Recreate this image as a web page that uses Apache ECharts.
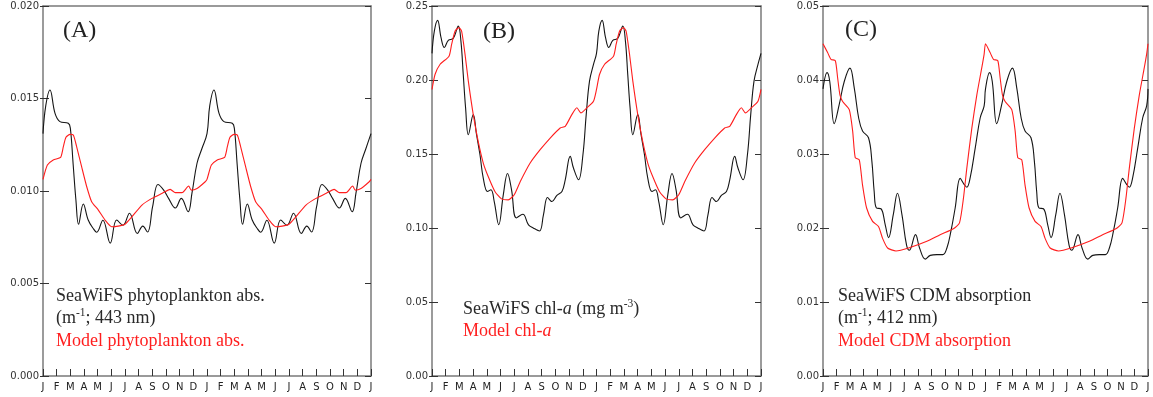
<!DOCTYPE html>
<html><head><meta charset="utf-8">
<script src="https://cdn.jsdelivr.net/npm/echarts@6/dist/echarts.min.js"></script>
<style>html,body{margin:0;padding:0;background:#fff}#c{width:1153px;height:397px}</style>
</head><body><div id="c"></div>
<script>
// Tick labels (months over two years)
const monthTickLabels = ['J','F','M','A','M','J','J','A','S','O','N','D','J','F','M','A','M','J','J','A','S','O','N','D','J'];

// Panel A: phytoplankton absorption (m^-1; 443 nm), one climatological year, plotted twice
const aSeaMonths = [0, 0.2, 0.51, 0.88, 1.24, 1.85, 2.0, 2.2, 2.41, 2.6, 2.95, 3.3, 3.65, 3.93, 4.38, 4.92, 5.39, 5.85, 6.33, 6.9, 7.3, 7.65, 8.02, 8.41, 8.83, 9.19, 9.68, 10.12, 10.62, 10.9, 11.27, 11.63];
const aSeaValues = [0.0131, 0.0146, 0.01546, 0.0142, 0.01375, 0.01366, 0.0134, 0.0115, 0.0095, 0.0082, 0.0093, 0.00845, 0.0080, 0.00777, 0.00842, 0.00718, 0.00843, 0.00815, 0.0088, 0.0077, 0.0081, 0.00778, 0.00915, 0.01035, 0.01005, 0.0096, 0.00908, 0.0096, 0.00888, 0.00988, 0.0115, 0.0123];
const aModMonths = [0, 0.32, 0.75, 1.29, 1.49, 1.68, 1.98, 2.22, 2.46, 2.83, 3.2, 3.56, 4.05, 4.54, 5.02, 5.5, 6.0, 6.5, 7.24, 7.97, 8.7, 9.31, 9.68, 10.17, 10.66, 10.85, 11.27, 11.87];
const aModValues = [0.01063, 0.0114, 0.01168, 0.01182, 0.0124, 0.0129, 0.01306, 0.01303, 0.0124, 0.0113, 0.01023, 0.00942, 0.00897, 0.00843, 0.00807, 0.0081, 0.0082, 0.0086, 0.00924, 0.0096, 0.00987, 0.01009, 0.00991, 0.00991, 0.01027, 0.01005, 0.01014, 0.0105];

// Panel B: chl-a (mg m^-3)
const bSeaMonths = [0, 0.17, 0.41, 0.66, 0.9, 1.19, 1.55, 1.92, 2.11, 2.28, 2.45, 2.65, 3.01, 3.25, 3.5, 3.74, 4.05, 4.3, 4.54, 4.87, 5.2, 5.51, 5.8, 6.15, 6.63, 7.04, 7.41, 7.84, 8.13, 8.43, 8.75, 9.11, 9.48, 9.72, 10.08, 10.32, 10.69, 11.01, 11.25, 11.49, 11.78];
const bSeaValues = [0.218, 0.233, 0.2403, 0.2286, 0.222, 0.2268, 0.2281, 0.2364, 0.2263, 0.2037, 0.1812, 0.163, 0.1766, 0.163, 0.1495, 0.1337, 0.1247, 0.1258, 0.1179, 0.1022, 0.1224, 0.1368, 0.126, 0.1068, 0.1093, 0.1021, 0.0999, 0.098, 0.1089, 0.1206, 0.1179, 0.122, 0.1247, 0.1326, 0.1484, 0.1405, 0.1326, 0.1495, 0.1766, 0.1992, 0.2105];
const bModMonths = [0, 0.22, 0.58, 1.24, 1.43, 1.68, 1.97, 2.16, 2.41, 2.65, 3.01, 3.37, 3.74, 4.1, 4.59, 5.07, 5.56, 6.0, 6.44, 7.16, 7.89, 8.62, 9.35, 9.72, 10.2, 10.57, 10.86, 11.3, 11.78];
const bModValues = [0.1936, 0.2037, 0.2105, 0.2161, 0.224, 0.233, 0.2354, 0.233, 0.2173, 0.1992, 0.1766, 0.1585, 0.1439, 0.1348, 0.1247, 0.1197, 0.119, 0.1225, 0.1314, 0.1439, 0.1529, 0.1608, 0.1676, 0.1687, 0.1766, 0.1812, 0.1778, 0.1812, 0.1856];

// Panel C: CDM absorption (m^-1; 412 nm)
const cSeaMonths = [0, 0.3, 0.5, 0.83, 1.2, 1.57, 1.99, 2.31, 2.63, 2.92, 3.36, 3.61, 3.78, 3.95, 4.28, 4.6, 4.84, 5.19, 5.5, 5.83, 6.17, 6.38, 6.83, 7.13, 7.55, 7.92, 8.41, 8.85, 9.15, 9.44, 9.76, 10.13, 10.42, 10.62, 10.87, 11.24, 11.61, 11.9];
const cSeaValues = [0.0388, 0.0410, 0.0398, 0.0341, 0.0367, 0.0398, 0.0416, 0.0389, 0.0349, 0.0331, 0.0322, 0.0290, 0.0249, 0.0227, 0.0226, 0.0204, 0.0187, 0.0218, 0.0247, 0.0218, 0.0177, 0.0170, 0.0191, 0.0173, 0.0158, 0.0163, 0.0164, 0.0164, 0.0173, 0.0195, 0.0227, 0.0267, 0.0259, 0.0255, 0.0268, 0.0308, 0.0349, 0.0365];
const cModMonths = [0, 0.34, 0.59, 0.91, 1.08, 1.25, 1.45, 1.94, 2.19, 2.38, 2.68, 2.92, 3.22, 3.66, 4.1, 4.4, 4.77, 5.39, 6.32, 7.67, 8.65, 9.63, 10.08, 10.37, 10.62, 10.99, 11.36, 11.73, 11.9];
const cModValues = [0.0449, 0.0437, 0.0428, 0.0426, 0.0403, 0.0380, 0.0371, 0.0360, 0.0331, 0.0295, 0.0292, 0.0258, 0.0227, 0.0209, 0.0202, 0.0186, 0.0173, 0.0169, 0.0173, 0.0182, 0.0191, 0.0199, 0.0207, 0.0240, 0.0281, 0.0335, 0.0380, 0.0417, 0.0435];

// y-axis ranges
const yMax = [0.020, 0.25, 0.05];
const yStep = [0.005, 0.05, 0.01];
const yDecimals = [3, 2, 2];

// the climatology is shown for two consecutive years
function twoYears(months, values) {
  const out = [];
  [0, 12].forEach(off => months.forEach((m, i) => out.push([m + off, values[i]])));
  out.push([24, values[0]]);
  return out;
}

const grids = [
  {left: 43, top: 6, width: 328, height: 370},
  {left: 432, top: 6, width: 329, height: 370},
  {left: 823, top: 6, width: 325, height: 370}
];
const frame = {color: '#7a7a7a', width: 1.5};
const tickStyle = {color: '#333', width: 1};
const xAxes = [], yAxes = [];
grids.forEach((g, i) => {
  xAxes.push({type: 'value', gridIndex: i, min: 0, max: 24, interval: 1, position: 'bottom',
    axisLine: {show: true, lineStyle: frame},
    axisTick: {show: true, inside: true, length: 7, lineStyle: tickStyle},
    axisLabel: {show: true, formatter: v => monthTickLabels[Math.round(v)], fontSize: 10, fontFamily: 'DejaVu Sans', color: '#222', margin: 6},
    splitLine: {show: false}});
  xAxes.push({type: 'value', gridIndex: i, min: 0, max: 24, interval: 1, position: 'top',
    axisLine: {show: true, onZero: false, lineStyle: frame}, axisTick: {show: false}, axisLabel: {show: false}, splitLine: {show: false}});
  const base = {type: 'value', gridIndex: i, min: 0, max: yMax[i], interval: yStep[i], splitLine: {show: false}};
  yAxes.push(Object.assign({}, base, {position: 'left',
    axisLine: {show: true, onZero: false, lineStyle: frame},
    axisTick: {show: true, inside: true, length: 6, lineStyle: tickStyle},
    axisLabel: {show: true, formatter: v => v.toFixed(yDecimals[i]), fontSize: 10, fontFamily: 'DejaVu Sans', color: '#333', margin: 4}}));
  yAxes.push(Object.assign({}, base, {position: 'left',
    axisLine: {show: false}, axisTick: {show: true, inside: false, length: 3, lineStyle: tickStyle}, axisLabel: {show: false}}));
  yAxes.push(Object.assign({}, base, {position: 'right',
    axisLine: {show: true, onZero: false, lineStyle: frame},
    axisTick: {show: true, inside: true, length: 6, lineStyle: tickStyle}, axisLabel: {show: false}}));
});

const BLACK = '#151515', RED = '#ff1e1e';
const panels = [
  [aSeaMonths, aSeaValues, aModMonths, aModValues],
  [bSeaMonths, bSeaValues, bModMonths, bModValues],
  [cSeaMonths, cSeaValues, cModMonths, cModValues]
];
const series = [];
panels.forEach((p, i) => {
  series.push({type: 'line', xAxisIndex: 2 * i, yAxisIndex: 3 * i, data: twoYears(p[0], p[1]), showSymbol: false, smooth: 0.4, lineStyle: {color: BLACK, width: 1.1}, silent: true});
  series.push({type: 'line', xAxisIndex: 2 * i, yAxisIndex: 3 * i, data: twoYears(p[2], p[3]), showSymbol: false, smooth: 0.2, lineStyle: {color: RED, width: 1.1}, silent: true});
});

const SERIF = 'Liberation Serif';
function rich(color) {
  return {
    n: {fontFamily: SERIF, fontSize: 18, fill: color, lineHeight: 22},
    i: {fontFamily: SERIF, fontSize: 18, fontStyle: 'italic', fill: color, lineHeight: 22},
    s: {fontFamily: SERIF, fontSize: 11.5, fill: color, lineHeight: 12, verticalAlign: 'top'}
  };
}
function line(x, y, text, color) {
  return {type: 'text', x: x, y: y, z: 100, style: {text: text, rich: rich(color), fill: color, verticalAlign: 'middle', align: 'left'}};
}
function label(x, y, t) {
  return {type: 'text', x: x, y: y, z: 100, style: {text: t, font: '24px "Liberation Serif"', fill: '#222', verticalAlign: 'middle', align: 'left'}};
}
const TXT = '#2a2a2a';
const graphic = [
  label(63, 31, '(A)'), label(483, 32, '(B)'), label(845, 30, '(C)'),
  line(56, 296, '{n|SeaWiFS phytoplankton abs.}', TXT),
  line(56, 318, '{n|(m}{s|-1}{n|; 443 nm)}', TXT),
  line(56, 341, '{n|Model phytoplankton abs.}', RED),
  line(463, 309, '{n|SeaWiFS chl-}{i|a}{n| (mg m}{s|-3}{n|)}', TXT),
  line(463, 331, '{n|Model chl-}{i|a}', RED),
  line(838, 296, '{n|SeaWiFS CDM absorption}', TXT),
  line(838, 318, '{n|(m}{s|-1}{n|; 412 nm)}', TXT),
  line(838, 341, '{n|Model CDM absorption}', RED)
];

const chart = echarts.init(document.getElementById('c'), null, {renderer: 'canvas'});
chart.setOption({
  animation: false,
  backgroundColor: '#fff',
  grid: grids,
  xAxis: xAxes,
  yAxis: yAxes,
  series: series,
  graphic: graphic
});
</script>
</body></html>
